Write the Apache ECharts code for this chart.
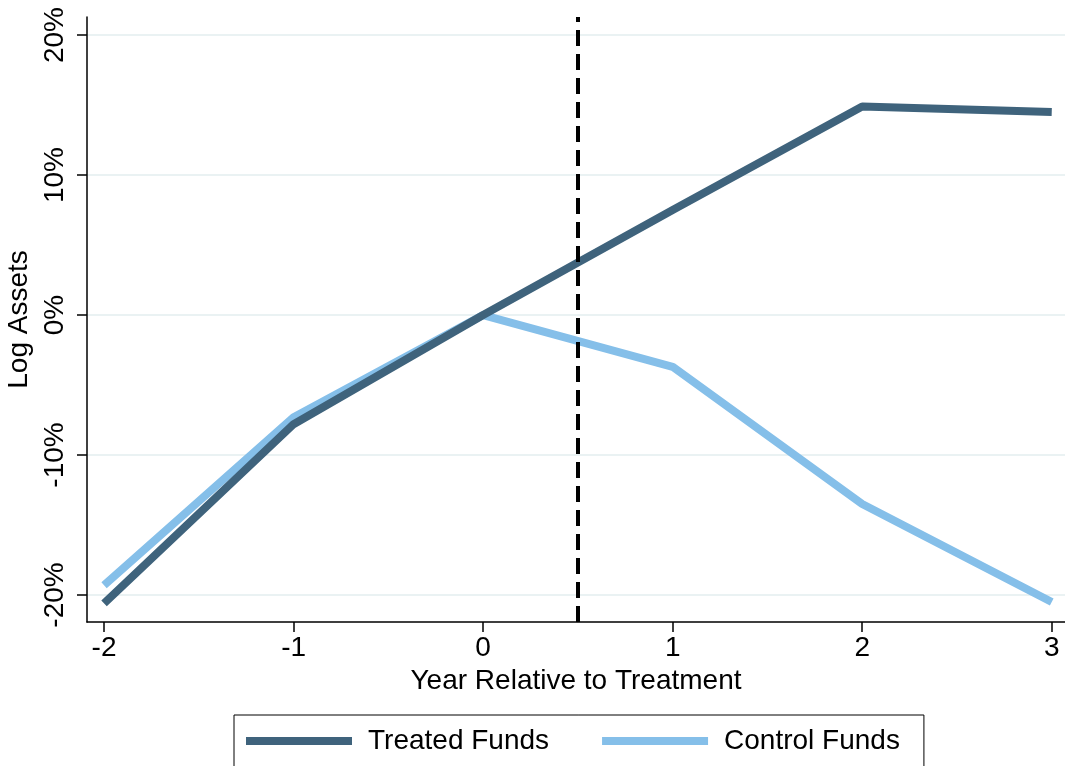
<!DOCTYPE html>
<html>
<head>
<meta charset="utf-8">
<title>Log Assets</title>
<script src="https://cdn.jsdelivr.net/npm/echarts@6/dist/echarts.min.js"></script>
<style>
  html, body { margin: 0; padding: 0; background: #fff; }
  #chart { width: 1065px; height: 766px; }
</style>
</head>
<body>
<div id="chart"></div>
<script>
// year relative to treatment
var years = [-2, -1, 0, 1, 2, 3];
// log assets, in percent
var treated = [-20.6, -7.8, 0, 7.5, 14.9, 14.5];
var control = [-19.3, -7.3, 0, -3.7, -13.5, -20.5];
var yTicks = [-20, -10, 0, 10, 20];
var treatmentLine = 0.5;

var font = "'Liberation Sans', Helvetica, Arial, sans-serif";

function pairs(xs, ys) {
  return xs.map(function (x, i) { return [x, ys[i]]; });
}

var myChart = echarts.init(document.getElementById("chart"));

var option = {
  animation: false,
  textStyle: { fontFamily: font },
  grid: { left: 87, right: 0, top: 17, bottom: 144, outerBoundsMode: "none" },
  xAxis: {
    type: "value",
    min: -2.09,
    max: 3.07,
    name: "Year Relative to Treatment",
    nameLocation: "middle",
    nameGap: 45,
    nameTextStyle: { fontSize: 28, color: "#000", fontFamily: font },
    axisLine: { onZero: false, lineStyle: { color: "#000", width: 1.5 } },
    axisTick: { show: true, length: 10, lineStyle: { color: "#000", width: 1.5 }, customValues: years },
    axisLabel: { fontSize: 28, color: "#000", margin: 12, fontFamily: font, customValues: years },
    splitLine: { show: false }
  },
  yAxis: {
    type: "value",
    min: -21.93,
    max: 21.29,
    name: "Log Assets",
    nameLocation: "middle",
    nameGap: 48,
    nameRotate: 90,
    nameTextStyle: { fontSize: 28, color: "#000", fontFamily: font },
    axisLine: { show: true, onZero: false, lineStyle: { color: "#000", width: 1.5 } },
    axisTick: { show: true, length: 10, lineStyle: { color: "#000", width: 1.5 }, customValues: yTicks },
    axisLabel: {
      fontSize: 28,
      color: "#000",
      rotate: 90,
      margin: 18,
      fontFamily: font,
      customValues: yTicks,
      formatter: function (v) { return v + "%"; }
    },
    splitLine: { show: true, lineStyle: { color: "#eaf2f3", width: 2 } }
  },
  legend: {
    left: 234,
    top: 715,
    orient: "horizontal",
    borderColor: "#000",
    borderWidth: 1,
    padding: [9, 24, 9, 12],
    itemWidth: 106,
    itemHeight: 8,
    itemGap: 53,
    textStyle: { fontSize: 28, color: "#000", fontFamily: font, padding: [0, 0, 0, 11], lineHeight: 34 },
    data: [
      { name: "Treated Funds", icon: "rect" },
      { name: "Control Funds", icon: "rect" }
    ]
  },
  series: [
    {
      name: "Control Funds",
      type: "line",
      showSymbol: false,
      color: "#85bfe9",
      lineStyle: { width: 8, color: "#85bfe9" },
      data: pairs(years, control)
    },
    {
      name: "Treated Funds",
      type: "line",
      showSymbol: false,
      color: "#3f637c",
      lineStyle: { width: 8, color: "#3f637c" },
      data: pairs(years, treated),
      markLine: {
        silent: true,
        symbol: ["none", "none"],
        label: { show: false },
        lineStyle: { color: "#000", width: 4, type: [16, 8] },
        data: [{ xAxis: treatmentLine }]
      }
    }
  ]
};

myChart.setOption(option);
</script>
</body>
</html>
